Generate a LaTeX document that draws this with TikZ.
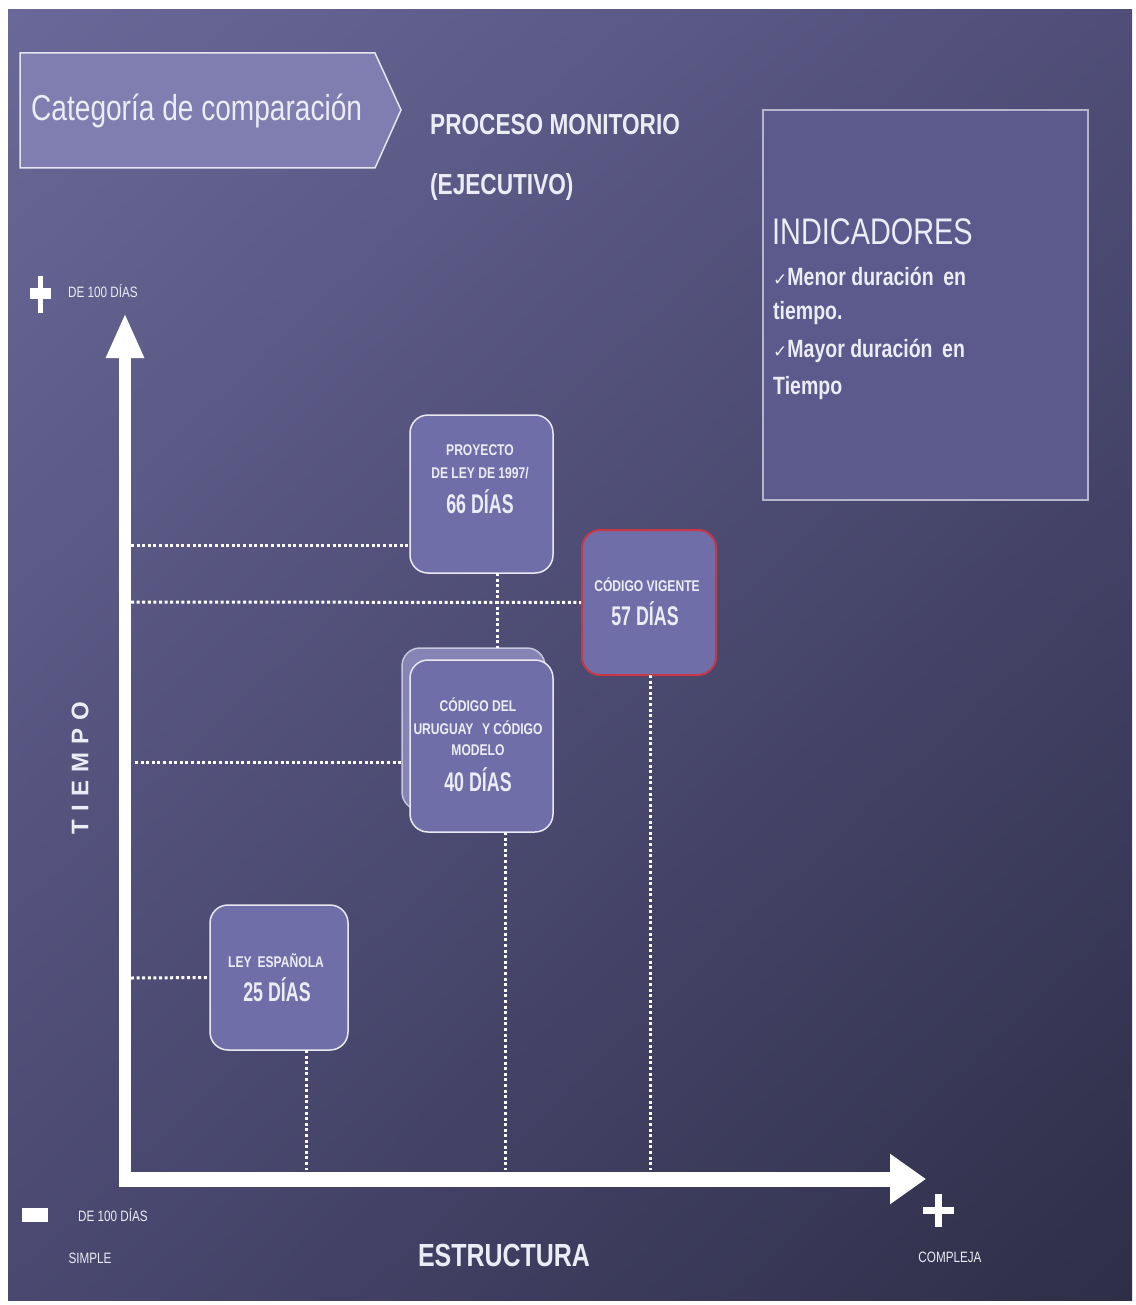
\documentclass[tikz,border=0pt]{standalone}
\usepackage{fontspec}
\setmainfont{Liberation Sans}
\newfontfamily\nar[FakeStretch=0.78]{Liberation Sans}
\newfontfamily\nnar[FakeStretch=0.66]{Liberation Sans}
\newfontfamily\djv{DejaVu Sans}
\usetikzlibrary{arrows.meta,shadings}
\definecolor{bgUL}{RGB}{106,104,152}
\definecolor{bgUR}{RGB}{80,78,120}
\definecolor{bgLL}{RGB}{74,72,112}
\definecolor{bgLR}{RGB}{46,46,72}
\definecolor{boxfill}{RGB}{112,110,168}
\definecolor{chevfill}{RGB}{128,126,176}
\definecolor{indfill}{RGB}{92,90,140}
\definecolor{redline}{RGB}{200,55,70}
\definecolor{txt}{RGB}{236,236,246}
\tikzset{
  x=1pt,y=-1pt,
  card/.style={draw=white!85!boxfill, line width=1.5pt, fill=boxfill, rounded corners=18pt, inner sep=0pt},
  boxtxt/.style={text=txt, font=\nar\bfseries\fontsize{15.5}{17}\selectfont, inner sep=0pt, anchor=center},
  bigtxt/.style={text=txt, font=\nnar\bfseries\fontsize{27}{29}\selectfont, inner sep=0pt, anchor=center},
  dotline/.style={white, line width=3pt, dash pattern=on 3pt off 2.6pt},
  yaxis/.style={white, line width=12pt, -{Triangle[width=35pt,length=45pt]}},
  xaxis/.style={white, line width=15pt, -{Triangle[width=48pt,length=36pt]}},
  small/.style={text=txt, font=\nar\fontsize{15}{17}\selectfont, inner sep=0pt}
}
\begin{document}
\begin{tikzpicture}
\useasboundingbox (0,0) rectangle (1135,1305);
\fill[white] (0,0) rectangle (1135,1305);
\shade[upper left=bgUL, upper right=bgUR, lower left=bgLL, lower right=bgLR] (8,10) rectangle (1132,1300);

% chevron
\filldraw[fill=chevfill, draw=white!80!chevfill, line width=1.5pt] (20,53) -- (375,53) -- (401,110) -- (375,168) -- (20,168) -- cycle;
\node[text=txt, font=\nar\fontsize{36}{38}\selectfont, anchor=west, inner sep=0pt] (cat) at (31,111) {Categoría de comparación};

\node[text=txt, font=\nar\bfseries\fontsize{29}{31}\selectfont, anchor=west, inner sep=0pt] (pm) at (430,125) {PROCESO MONITORIO};
\node[text=txt, font=\nar\bfseries\fontsize{29}{31}\selectfont, anchor=west, inner sep=0pt] (ej) at (430,187) {(EJECUTIVO)};

% indicadores box
\filldraw[fill=indfill, draw=white!55!indfill, line width=1.5pt] (763,110) rectangle (1088,500);
\node[text=txt, font=\nar\fontsize{37}{39}\selectfont, anchor=west, inner sep=0pt] (ind) at (772,232) {INDICADORES};
\node[text=txt, font=\nar\bfseries\fontsize{25}{27}\selectfont, anchor=west, inner sep=0pt] (i1) at (773,276) {{\djv\fontsize{17}{19}\selectfont\mdseries ✓}Menor duración\, en};
\node[text=txt, font=\nar\bfseries\fontsize{25}{27}\selectfont, anchor=west, inner sep=0pt] (i2) at (773,313) {tiempo.};
\node[text=txt, font=\nar\bfseries\fontsize{25}{27}\selectfont, anchor=west, inner sep=0pt] (i3) at (773,351) {{\djv\fontsize{17}{19}\selectfont\mdseries ✓}Mayor duración\, en};
\node[text=txt, font=\nar\bfseries\fontsize{25}{27}\selectfont, anchor=west, inner sep=0pt] (i4) at (773,388) {Tiempo};

% axes
\coordinate (O) at (125,1178);
\coordinate (ytip) at (125,313);
\coordinate (xtip) at (926,1179);
\draw[yaxis] (125,1186) -- (ytip);
\draw[xaxis] (119,1179) -- (xtip);

% plus / minus markers
\fill[white] (38,276) rectangle (43,313);
\fill[white] (30,288) rectangle (51,299);
\node[small, anchor=west] (d100a) at (68,291) {DE 100 DÍAS};
\fill[white] (22,1208) rectangle (48,1222);
\node[small, anchor=west] (d100b) at (78,1215) {DE 100 DÍAS};
\node[small, anchor=center] (simple) at (90,1258) {SIMPLE};
\fill[white] (935,1194) rectangle (942,1227);
\fill[white] (923,1207) rectangle (954,1214);
\node[small, anchor=center] (compleja) at (950,1257) {COMPLEJA};
\node[text=txt, font=\nar\bfseries\fontsize{32}{34}\selectfont, inner sep=0pt] (estr) at (504,1255) {ESTRUCTURA};
\node[text=txt, font=\bfseries\fontsize{24}{26}\selectfont, inner sep=0pt, rotate=90] (tiempo) at (80,768) {T\,\,I\,\,E\,\,M\,\,P\,\,O};

% boxes
\node[card, minimum width=143pt, minimum height=158pt] (proy) at (481.5,494) {};
\node[boxtxt] (proyA) at (480,450) {PROYECTO};
\node[boxtxt] (proyB) at (480,473) {DE LEY DE 1997/};
\node[bigtxt] (proyC) at (480,502) {66 DÍAS};

\node[card, draw=redline, line width=2pt, minimum width=134pt, minimum height=145pt] (vig) at (649,602.5) {};
\node[boxtxt] (vigA) at (647,585) {CÓDIGO VIGENTE};
\node[bigtxt] (vigB) at (645,614) {57 DÍAS};

\node[card, fill=boxfill!85!white, draw=white!60!boxfill, minimum width=143pt, minimum height=162pt] (uruB) at (473.5,729) {};
\node[card, minimum width=143pt, minimum height=172pt] (uru) at (481.5,746) {};
\node[boxtxt] (uruA) at (478,705) {CÓDIGO DEL};
\node[boxtxt] (uruB2) at (478,728) {URUGUAY\,\, Y CÓDIGO};
\node[boxtxt] (uruC) at (478,750) {MODELO};
\node[bigtxt] (uruD) at (478,780) {40 DÍAS};

\node[card, minimum width=138pt, minimum height=145pt] (esp) at (279,977.5) {};
\node[boxtxt] (espA) at (276,961) {LEY\, ESPAÑOLA};
\node[bigtxt] (espB) at (277,990) {25 DÍAS};

% dotted guide lines
\coordinate (h1) at (131,545);
\coordinate (h1e) at (410,545);
\coordinate (h2) at (131,602);
\coordinate (h3) at (135,762);
\coordinate (h3e) at (402,762);
\coordinate (h4) at (131,978);
\draw[dotline] (h1) -- (h1e);
\draw[dotline] (h2) -- (vig.west);
\draw[dotline] (h3) -- (h3e);
\draw[dotline] (h4) -- (esp.west);
\coordinate (v1) at (497,573);
\coordinate (v1e) at (497,648);
\draw[dotline] (v1) -- (v1e);
\coordinate (v2) at (505,832);
\coordinate (v2e) at (505,1170);
\draw[dotline] (v2) -- (v2e);
\coordinate (v3) at (650,675);
\coordinate (v3e) at (650,1170);
\draw[dotline] (v3) -- (v3e);
\coordinate (v4) at (306,1050);
\coordinate (v4e) at (306,1170);
\draw[dotline] (v4) -- (v4e);
\end{tikzpicture}
\end{document}
